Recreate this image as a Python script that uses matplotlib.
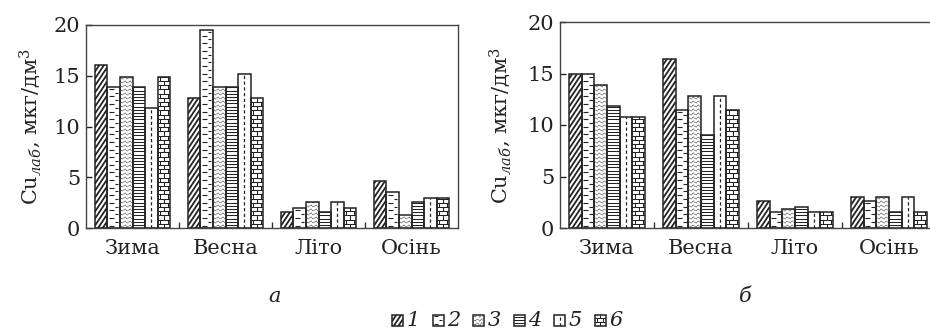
import numpy as np
import matplotlib
matplotlib.use("Agg")
import matplotlib.pyplot as plt
from matplotlib.collections import LineCollection
from matplotlib.patches import Rectangle
from matplotlib.transforms import IdentityTransform

plt.rcParams['font.family'] = ['DejaVu Serif']
plt.rcParams['mathtext.fontset'] = 'dejavuserif'

# --- Data ---
seasons = ['Зима', 'Весна', 'Літо', 'Осінь']
series_labels = ['1', '2', '3', '4', '5', '6']
panel_labels = ['а', 'б']

# panel а: rows = series 1..6, columns = seasons
cu_a = [
    [16.1, 12.8, 1.6, 4.6],
    [13.9, 19.5, 2.0, 3.5],
    [14.9, 13.9, 2.6, 1.3],
    [13.9, 13.9, 1.6, 2.6],
    [11.8, 15.2, 2.6, 3.0],
    [14.9, 12.8, 2.0, 3.0],
]
# panel б
cu_b = [
    [15.0, 16.4, 2.6, 3.0],
    [15.0, 11.5, 1.6, 2.6],
    [13.9, 12.8, 1.8, 3.0],
    [11.8, 9.0, 2.0, 1.6],
    [10.8, 12.8, 1.6, 3.0],
    [10.8, 11.5, 1.6, 1.6],
]

patterns = ['diag', 'dash', 'wave', 'hline', 'vdash', 'brick']
EDGE = '#222222'
TXT = '#222222'


def pattern_segments(kind, x0, y0, x1, y1):
    """Line segments (in pixels) that fill a box with one of the patterns."""
    w, h = x1 - x0, y1 - y0
    segs = []
    style = dict(colors=EDGE, linewidths=0.8)
    if kind == 'diag':
        slope, step = 1.5, 7.0
        for b in np.arange(-slope * w - step, h + step, step):
            segs.append([(x0, y0 + b), (x1, y0 + b + slope * w)])
        style['linewidths'] = 1.3
    elif kind == 'dash':
        for k, y in enumerate(np.arange(y0 + 2.5, y1, 3.8)):
            if k % 2 == 0:
                segs.append([(x0 + 1.5, y), (x0 + 0.5 * w, y)])
            else:
                segs.append([(x0 + 0.62 * w, y), (x1 - 1.5, y)])
    elif kind == 'wave':
        xs = np.linspace(x0, x1, 6)
        for y in np.arange(y0 + 2.0, y1, 4.0):
            ys = y + np.array([1.2, -1.2, 1.2, -1.2, 1.2, -1.2])
            segs.append(list(zip(xs, ys)))
        style.update(colors='#666666', linewidths=0.7, linestyles=(0, (1.2, 0.6)))
    elif kind == 'hline':
        for y in np.arange(y0 + 3.0, y1, 3.2):
            segs.append([(x0, y), (x1, y)])
        style['linewidths'] = 0.75
    elif kind == 'vdash':
        xc = 0.5 * (x0 + x1)
        segs.append([(xc, y0), (xc, y1)])
        style.update(linewidths=0.9, linestyles=(0, (2.6, 2.0)))
    elif kind == 'brick':
        ys = np.arange(y0, y1 + 4.2, 4.2)
        for k in range(len(ys) - 1):
            segs.append([(x0, ys[k]), (x1, ys[k])])
            xs = [0.5] if k % 2 == 0 else [0.2, 0.8]
            for f in xs:
                segs.append([(x0 + f * w, ys[k]), (x0 + f * w, ys[k + 1])])
        style['linewidths'] = 0.75
    return segs, style


def fill_pattern(container, patch, kind):
    x0, y0, x1, y1 = patch.get_extents().extents
    segs, style = pattern_segments(kind, x0, y0, x1, y1)
    lc = LineCollection(segs, transform=IdentityTransform(), zorder=2, **style)
    if hasattr(container, 'add_collection'):
        container.add_collection(lc, autolim=False)
    else:
        container.add_artist(lc)
    # clip after adding, otherwise the axes sets its own clip box
    lc.set_clip_path(patch)


fig = plt.figure(figsize=(9.3, 3.36), dpi=100)
W, H = 930, 336


def draw_panel(rect_px, values, ylabel_x, letter, letter_x):
    left, top, right, bottom = rect_px
    ax = fig.add_axes([left / W, 1 - bottom / H, (right - left) / W, (bottom - top) / H])
    x = np.arange(len(seasons))
    bw = 0.135
    ax.set_xlim(-0.5, len(seasons) - 0.5)
    ax.set_ylim(0, 20)
    for i, vals in enumerate(values):
        pos = x + (i - 2.5) * bw
        bars = ax.bar(pos, vals, bw, color='white', edgecolor='none', zorder=1)
        for b in bars:
            fill_pattern(ax, b, patterns[i])
        ax.bar(pos, vals, bw, fill=False, edgecolor=EDGE, linewidth=1.1, zorder=3)

    ax.set_yticks([0, 5, 10, 15, 20])
    ax.set_xticks(x)
    ax.set_xticklabels(seasons)
    ax.set_xticks(x[:-1] + 0.5, minor=True)
    ax.tick_params(axis='x', which='major', length=0, pad=8, labelsize=15, colors=TXT)
    ax.tick_params(axis='x', which='minor', direction='in', length=4, width=1.0, color='#333333')
    ax.tick_params(axis='y', direction='in', length=4, width=1.0, pad=4, labelsize=15,
                   colors=TXT)
    for s in ax.spines.values():
        s.set_color('#444444')
        s.set_linewidth(1.0)
    fig.text(ylabel_x / W, 1 - 0.5 * (top + bottom) / H,
             r'Cu$_{\mathit{лаб}}$, мкг/дм$^3$', rotation=90,
             ha='center', va='center', fontsize=15, color=TXT)
    fig.text(letter_x / W, 1 - 296 / H, letter, style='italic', fontsize=15,
             ha='center', va='center', color=TXT)
    return ax


draw_panel((86, 25, 458, 228), cu_a, 30, panel_labels[0], 275)
draw_panel((560, 22, 936, 228), cu_b, 500, panel_labels[1], 745)

# legend row along the bottom, drawn with the same fill patterns
for i, lab in enumerate(series_labels):
    x0 = 392 + i * 40.5
    y0 = H - 326
    sq = Rectangle((x0, y0), 11, 11, transform=IdentityTransform(),
                   facecolor='white', edgecolor='none')
    fig.add_artist(sq)
    fill_pattern(fig, sq, patterns[i])
    fig.add_artist(Rectangle((x0, y0), 11, 11, transform=IdentityTransform(),
                             fill=False, edgecolor=EDGE, linewidth=1.1))
    fig.text((x0 + 15) / W, (y0 + 5.5) / H, lab, style='italic', fontsize=15,
             ha='left', va='center', color=TXT)

fig.savefig('out.png', dpi=100)
